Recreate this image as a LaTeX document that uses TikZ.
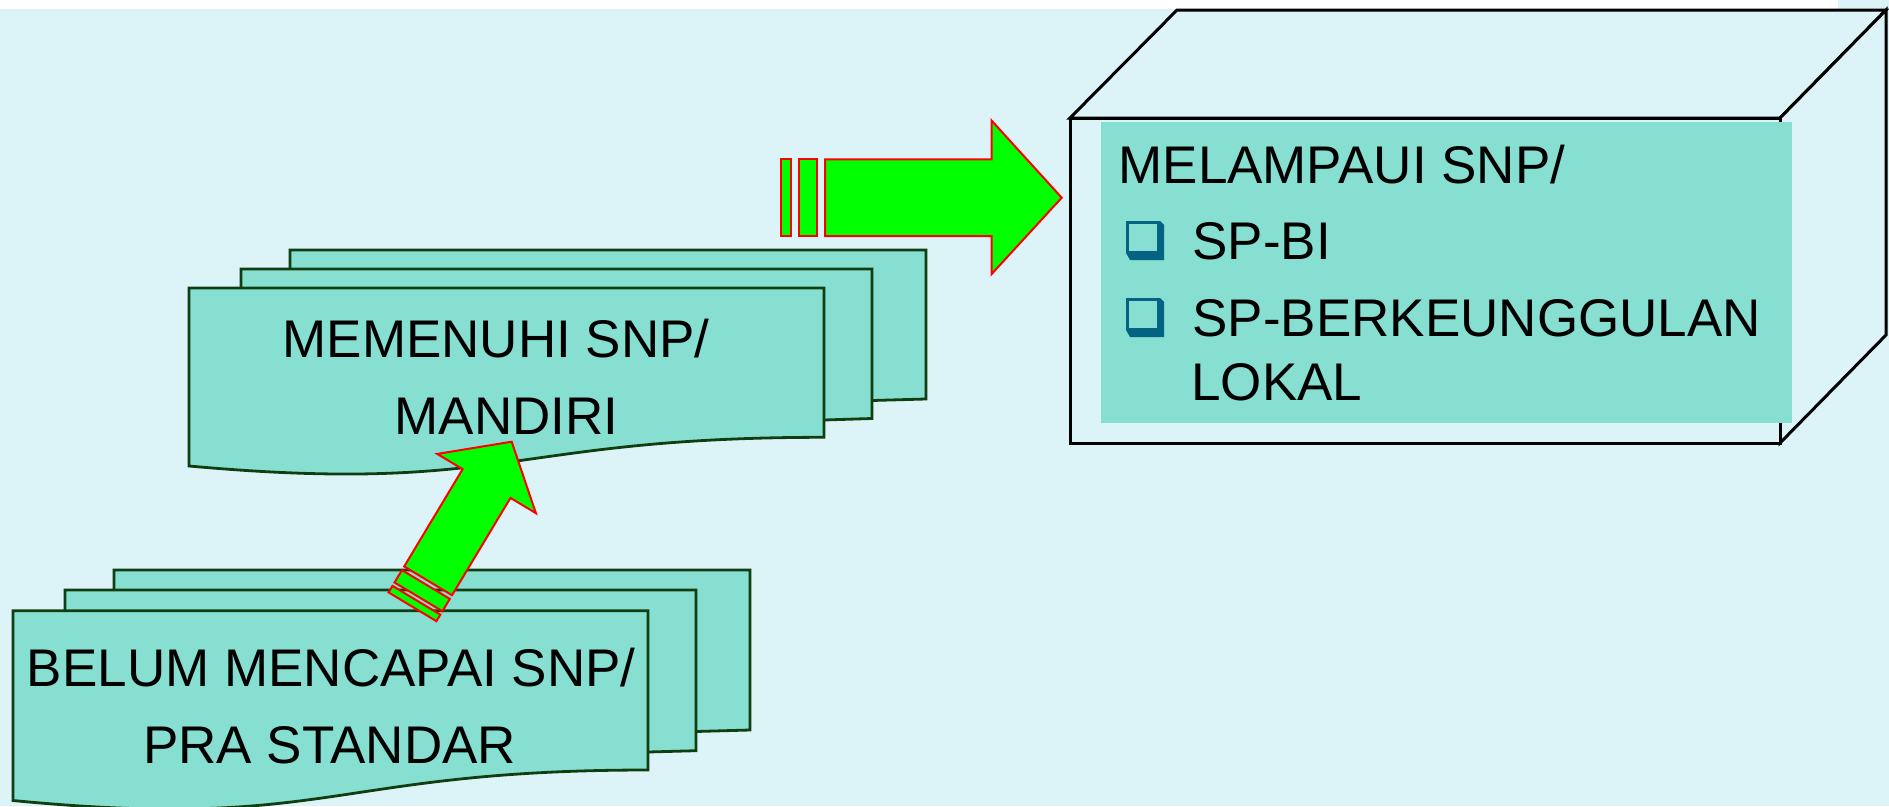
\documentclass[tikz,border=0pt]{standalone}
\usepackage{fontspec}
\setmainfont{Liberation Sans}
\definecolor{bgblue}{RGB}{220,244,248}
\definecolor{tealfill}{RGB}{134,223,208}
\definecolor{sheetline}{RGB}{16,62,16}
\definecolor{arrowgreen}{RGB}{0,255,0}
\definecolor{chkblue}{RGB}{4,98,130}
\begin{document}
\begin{tikzpicture}[x=1pt,y=-1pt,
  sheet/.style={fill=tealfill, draw=sheetline, line width=2.8pt, line join=miter},
  greenarrow/.style={fill=arrowgreen, draw=red, line width=2pt, line join=miter},
  cubeface/.style={fill=bgblue, draw=black, line width=3pt, line join=miter},
  lbl/.style={inner sep=0pt, outer sep=0pt, font=\fontsize{53}{60}\selectfont, text=black},
  chk/.pic={
    \fill[chkblue] (0,0) -- (34,0) -- (38,4) -- (38,39) -- (4,39) -- (0,32) -- cycle;
    \fill[tealfill] (2.7,2.7) rectangle (31.3,29.6);
  }]
\useasboundingbox (0,0) rectangle (1889,806);
% background
\fill[white] (0,0) rectangle (1889,806);
\fill[bgblue] (0,9) rectangle (1889,806);
\fill[bgblue] (1838,0) rectangle (1889,9);

% cube
\path[cubeface] (1070,118) -- (1177,10) -- (1886,10) -- (1780,118) -- cycle;
\path[cubeface] (1780,118) -- (1886,10) -- (1886,335) -- (1780,443) -- cycle;
\path[cubeface] (1070,118) rectangle (1780,443);
\fill[tealfill] (1101,122) rectangle (1792,423);
\pic at (1126,221) {chk};
\pic at (1126,298) {chk};
\node[lbl, anchor=base west] (melampaui) at (1118.5,183) {MELAMPAUI SNP/};
\node[lbl, anchor=base west] (spbi) at (1192.5,259) {SP-BI};
\node[lbl, anchor=base west] (spbk) at (1192.5,336) {SP-BERKEUNGGULAN};
\node[lbl, anchor=base west] (lokal) at (1191.5,400) {LOKAL};

% middle stack
\path[sheet] (290,250) -- (926,250) -- (926,399) -- (872,400.5) -- (290,400.5) -- cycle;
\path[sheet] (241,269) -- (872,269) -- (872,418.5) -- (824,420) -- (241,420) -- cycle;
\path[sheet] (189,288) -- (824,288) -- (824,437.3)
  .. controls (506.5,437.3) and (506.5,494.7) .. (189,466) -- cycle;
\node[lbl, anchor=base] (memenuhi) at (496,357.3) {MEMENUHI SNP/};
\node[lbl, anchor=base] (mandiri) at (506.5,434.3) {MANDIRI};

% bottom stack
\path[sheet] (114,570) -- (750,570) -- (750,730) -- (696,731.5) -- (114,731.5) -- cycle;
\path[sheet] (65,590) -- (696,590) -- (696,750.7) -- (648,752) -- (65,752) -- cycle;
\path[sheet] (13,610.7) -- (648,610.7) -- (648,770)
  .. controls (330.5,770) and (330.5,831.2) .. (13,800.5) -- cycle;
\node[lbl, anchor=base] (belum) at (331.3,686.7) {BELUM MENCAPAI SNP/};
\node[lbl, anchor=base] (pra) at (329.6,763.3) {PRA STANDAR};

% right striped arrow
\path[greenarrow] (781,159.3) rectangle (791,236);
\path[greenarrow] (798.7,159.3) rectangle (817.3,236);
\path[greenarrow] (825,159.3) -- (991.7,159.3) -- (991.7,120.7) -- (1061.7,197.7)
  -- (991.7,274) -- (991.7,236) -- (825,236) -- cycle;

% diagonal striped arrow
\begin{scope}[shift={(511.7,441.7)}, rotate=59]
  \path[greenarrow] (-166.6,-27.9) rectangle (-181,27.9);
  \path[greenarrow] (-185,-27.9) rectangle (-192.6,27.9);
  \path[greenarrow] (0,0) -- (-48.8,-57.5) -- (-48.8,-27.9) -- (-162.3,-27.9)
    -- (-162.3,27.9) -- (-48.8,27.9) -- (-48.8,57.5) -- cycle;
\end{scope}
\end{tikzpicture}
\end{document}
